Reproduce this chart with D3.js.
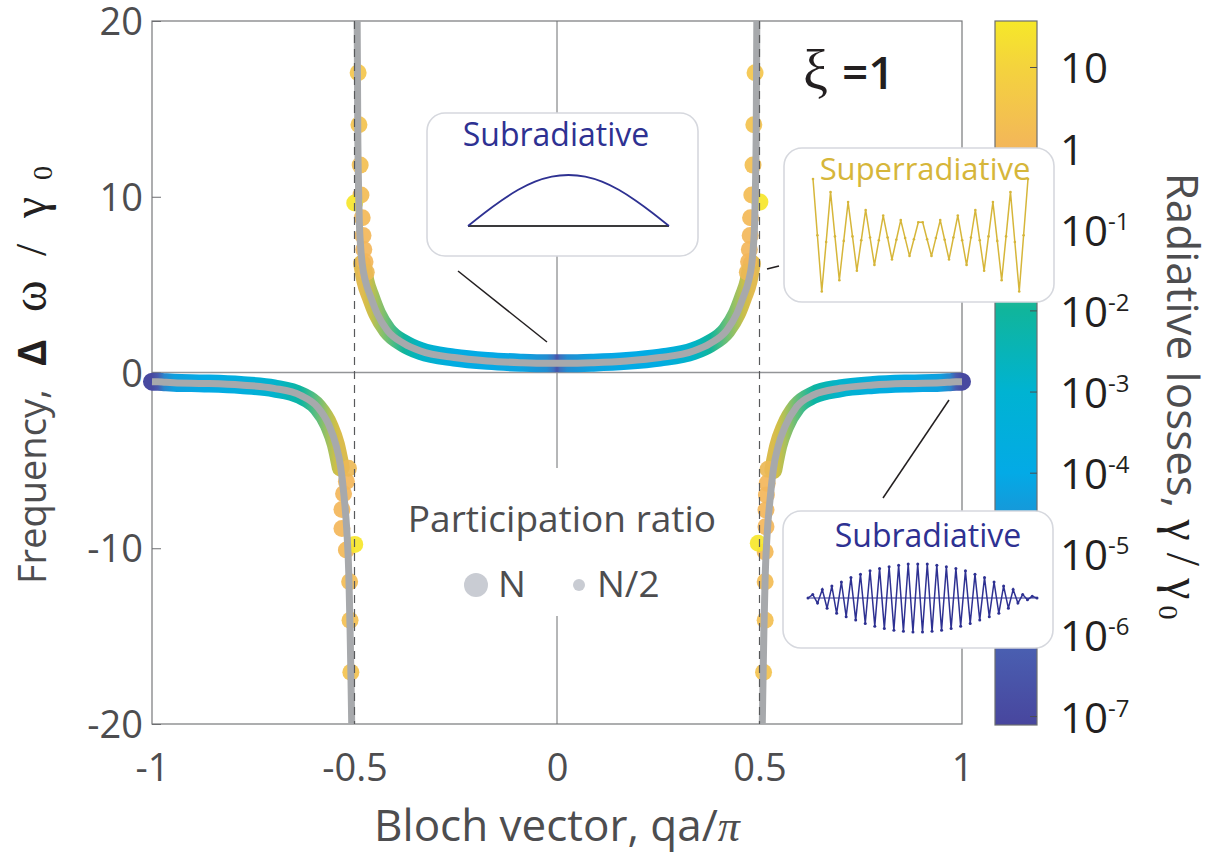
<!DOCTYPE html>
<html>
<head>
<meta charset="utf-8">
<script src="https://cdn.jsdelivr.net/npm/d3@7"></script>
<style>
  body { margin: 0; background: #fff; }
  svg { display: block; }
  text { font-family: "Open Sans", Lato, sans-serif; }
</style>
</head>
<body>
<div id="chart"></div>
<script>
// ---- data ----
// upper branch, |q| < 0.5 : Bloch vector, frequency, log10 radiative loss
const upperQ = [-0.4935, -0.492, -0.490, -0.488, -0.485, -0.481, -0.473, -0.460, -0.444, -0.419, -0.378, -0.337, -0.254, -0.172, -0.090, -0.025, -0.008, 0,
                0.008, 0.025, 0.090, 0.172, 0.254, 0.337, 0.378, 0.419, 0.444, 0.460, 0.473, 0.481, 0.485, 0.488, 0.490, 0.492, 0.4935];
const upperW = [20.5, 14.0, 10.5, 8.5, 7.2, 6.2, 5.2, 4.3, 3.35, 2.4, 1.65, 1.22, 0.85, 0.66, 0.56, 0.52, 0.52, 0.52,
                0.52, 0.52, 0.56, 0.66, 0.85, 1.22, 1.65, 2.4, 3.35, 4.3, 5.2, 6.2, 7.2, 8.5, 10.5, 14.0, 20.5];
const upperG = [0.3, 0.2, 0.1, 0, -0.1, -0.25, -0.4, -0.55, -0.8, -1.2, -2.0, -2.8, -3.8, -4.0, -4.2, -4.8, -5.6, -6.6,
                -5.6, -4.8, -4.2, -4.0, -3.8, -2.8, -2.0, -1.2, -0.8, -0.55, -0.4, -0.25, -0.1, 0, 0.1, 0.2, 0.3];

// lower branch, q < -0.5
const lowLQ = [-1.0, -0.985, -0.97, -0.946, -0.870, -0.781, -0.699, -0.633, -0.592, -0.563, -0.546, -0.534, -0.526, -0.519, -0.514, -0.511, -0.509, -0.5065];
const lowLW = [-0.52, -0.53, -0.55, -0.58, -0.62, -0.71, -0.9, -1.3, -1.95, -3.0, -4.1, -5.4, -7.0, -9.0, -11.5, -14.5, -17.0, -20.5];
const lowLG = [-7.0, -6.3, -5.0, -4.3, -4.0, -3.6, -2.9, -2.1, -1.3, -0.75, -0.5, -0.35, -0.2, -0.1, 0, 0.1, 0.2, 0.3];

// lower branch, q > 0.5
const lowRQ = [0.5065, 0.509, 0.511, 0.514, 0.519, 0.526, 0.534, 0.546, 0.563, 0.592, 0.633, 0.699, 0.781, 0.870, 0.946, 0.97, 0.985, 1.0];
const lowRW = [-20.5, -17.0, -14.5, -11.6, -9.15, -7.25, -5.55, -4.2, -3.08, -1.94, -1.28, -0.9, -0.71, -0.62, -0.58, -0.55, -0.53, -0.52];
const lowRG = [0.3, 0.2, 0.1, 0, -0.1, -0.2, -0.35, -0.5, -0.75, -1.3, -2.1, -2.9, -3.6, -4.0, -4.3, -5.0, -6.3, -7.0];

// separate modes near the divergence (large markers)
const dotQ = [0.489, 0.486, 0.484, 0.481, 0.478, 0.477, 0.475, 0.473, 0.470, 0.501,
              -0.491, -0.489, -0.486, -0.484, -0.481, -0.479, -0.477, -0.474, -0.471, -0.4995,
              -0.509, -0.511, -0.512, -0.520, -0.531, -0.531, -0.527, -0.520, -0.515, -0.4994,
              0.510, 0.514, 0.514, 0.514, 0.516, 0.516, 0.517, 0.519, 0.521, 0.497];
const dotW = [17.06, 14.1, 11.8, 10.1, 8.8, 7.8, 7.0, 6.3, 5.7, 9.7,
              17.06, 14.1, 11.8, 10.1, 8.8, 7.8, 7.0, 6.3, 5.7, 9.65,
              -17.06, -14.1, -11.9, -10.1, -8.87, -7.8, -6.9, -6.2, -5.45, -9.78,
              -17.06, -14.1, -11.9, -10.2, -8.77, -7.82, -6.97, -6.3, -5.5, -9.72];
const dotG = [0.5, 0.4, 0.3, 0.2, 0.1, 0.05, 0, 0, -0.1, 1.5,
              0.5, 0.4, 0.3, 0.2, 0.1, 0.05, 0, 0, -0.1, 1.5,
              0.4, 0.3, 0.2, 0.1, 0, 0, 0, 0, -0.1, 1.5,
              0.4, 0.3, 0.2, 0.1, 0, 0, 0, 0, -0.1, 1.5];

// colour map (log10 gamma -> colour) and colorbar ticks
const cmapLog = [-7.11, -6, -5, -4, -3, -2, -1, -0.5, 0, 1, 1.567];
const cmapCol = ["#48469e", "#4a63b4", "#2a86cc", "#03aae6", "#00b3d2", "#10b59c", "#86c26d", "#cfbf47", "#f3b65a", "#f4d33d", "#f6e829"];
const cbTicks = [-7, -6, -5, -4, -3, -2, -1, 0, 1];

// inset mode profiles
const archVals = [0, 0.26, 0.5, 0.71, 0.87, 0.97, 1, 0.97, 0.87, 0.71, 0.5, 0.26, 0];
const superVals = [1, 0, -1, -0.12, 0.77, -0.02, -0.8, -0.1, 0.59, -0.02, -0.63, -0.09, 0.45, -0.04, -0.53, -0.09, 0.35, -0.04, -0.43, -0.08, 0.27, -0.05, -0.37, -0.07, 0.23,
                   0.23, -0.07, -0.37, -0.05, 0.27, -0.08, -0.43, -0.04, 0.35, -0.09, -0.53, -0.04, 0.45, -0.09, -0.63, -0.02, 0.59, -0.1, -0.8, -0.02, 0.77, -0.12, -1, 0, 1];
const subVals = [0, 0.1, -0.15, 0.25, -0.3, 0.35, -0.45, 0.47, -0.55, 0.6, -0.65, 0.7, -0.75, 0.8, -0.83, 0.87, -0.9, 0.92, -0.95, 0.96, -0.98, 1, -1, 1, -1,
                 1, -0.98, 0.96, -0.95, 0.92, -0.9, 0.87, -0.83, 0.8, -0.75, 0.7, -0.65, 0.6, -0.55, 0.47, -0.45, 0.35, -0.3, 0.25, -0.15, 0.1, -0.05, 0.05, 0];

// ---- drawing ----
const W = 1218, H = 852;
const plot = { left: 152, right: 962, top: 21, bottom: 724 };

const svg = d3.select("#chart").append("svg")
    .attr("width", W)
    .attr("height", H);
const defs = svg.append("defs");

defs.append("clipPath").attr("id", "plotClip")
    .append("rect")
    .attr("x", 0).attr("y", plot.top)
    .attr("width", W).attr("height", plot.bottom - plot.top);

const x = d3.scaleLinear().domain([-1, 1]).range([plot.left, plot.right]);
const y = d3.scaleLinear().domain([-20, 20]).range([plot.bottom, plot.top]);
const color = d3.scaleLinear().domain(cmapLog).range(cmapCol).clamp(true);

// frame and reference lines
svg.append("rect")
    .attr("x", plot.left).attr("y", plot.top)
    .attr("width", plot.right - plot.left).attr("height", plot.bottom - plot.top)
    .attr("fill", "none").attr("stroke", "#77787b").attr("stroke-width", 1.2);

svg.append("line")
    .attr("x1", x(0)).attr("x2", x(0)).attr("y1", plot.top).attr("y2", plot.bottom)
    .attr("stroke", "#6d6e71").attr("stroke-width", 1);
svg.append("line")
    .attr("x1", plot.left).attr("x2", plot.right).attr("y1", y(0)).attr("y2", y(0))
    .attr("stroke", "#939598").attr("stroke-width", 1.6);

// axes
const yAxis = svg.append("g")
    .attr("transform", `translate(${plot.left},0)`)
    .call(d3.axisLeft(y).tickValues([-20, -10, 0, 10, 20]).tickSize(-9).tickPadding(9).tickFormat(d => String(d)));
yAxis.select(".domain").remove();
yAxis.selectAll("line").attr("stroke", "#6d6e71");
yAxis.selectAll("text").attr("font-size", 38).attr("fill", "#4d4d4f").attr("dy", "0.36em")
    .style("font-family", "'Open Sans', sans-serif");

const xAxis = svg.append("g")
    .attr("transform", `translate(0,${plot.bottom})`)
    .call(d3.axisBottom(x).tickValues([-1, -0.5, 0, 0.5, 1]).tickSize(0).tickPadding(30).tickFormat(d => String(d)));
xAxis.select(".domain").remove();
xAxis.selectAll("text").attr("font-size", 38).attr("fill", "#4d4d4f")
    .style("font-family", "'Open Sans', sans-serif");

// dispersion branches
const branches = [
    { id: "up", q: upperQ, w: upperW, g: upperG, bandMax: 6.3 },
    { id: "lowL", q: lowLQ, w: lowLW, g: lowLG, bandMax: 5.6 },
    { id: "lowR", q: lowRQ, w: lowRW, g: lowRG, bandMax: 5.6 }
];
branches.forEach(b => {
    b.pts = b.q.map((q, i) => ({ q, w: b.w[i], g: b.g[i] }));
    b.band = b.pts.filter(d => Math.abs(d.w) <= b.bandMax);
});

const line = d3.line().x(d => x(d.q)).y(d => y(d.w)).curve(d3.curveMonotoneX);

const curves = svg.append("g").attr("clip-path", "url(#plotClip)");

// coloured band (radiative losses) with a gradient built from the data
branches.forEach(b => {
    const x1 = x(b.band[0].q), x2 = x(b.band[b.band.length - 1].q);
    const grad = defs.append("linearGradient")
        .attr("id", "grad-" + b.id)
        .attr("gradientUnits", "userSpaceOnUse")
        .attr("x1", x1).attr("x2", x2).attr("y1", 0).attr("y2", 0);
    b.band.forEach(d => {
        grad.append("stop")
            .attr("offset", (x(d.q) - x1) / (x2 - x1))
            .attr("stop-color", color(d.g));
    });
    curves.append("path")
        .attr("d", line(b.band))
        .attr("fill", "none")
        .attr("stroke", `url(#grad-${b.id})`)
        .attr("stroke-width", 18)
        .attr("stroke-linecap", "round");
});

// isolated modes close to q = +-0.5
const dots = dotQ.map((q, i) => ({ q, w: dotW[i], g: dotG[i] }));
curves.selectAll(".dot")
    .data(dots)
    .enter().append("circle")
    .attr("class", "dot")
    .attr("cx", d => x(d.q))
    .attr("cy", d => y(d.w))
    .attr("r", 8.5)
    .attr("fill", d => color(d.g))
    .attr("fill-opacity", 0.92);

// analytic curve on top
branches.forEach(b => {
    curves.append("path")
        .attr("d", line(b.pts))
        .attr("fill", "none")
        .attr("stroke", "#a7a9ac")
        .attr("stroke-width", 7);
});

// light-line asymptotes
[-0.5, 0.5].forEach(q => {
    svg.append("line")
        .attr("x1", x(q)).attr("x2", x(q)).attr("y1", plot.top).attr("y2", plot.bottom)
        .attr("stroke", "#58595b").attr("stroke-width", 1.2)
        .attr("stroke-dasharray", "8,6");
});

// axis titles
svg.append("text")
    .attr("x", x(0)).attr("y", 841)
    .attr("text-anchor", "middle")
    .attr("font-size", 44).attr("fill", "#4d4d4f")
    .html('Bloch vector, qa/<tspan font-family="Liberation Serif" font-style="italic">π</tspan>');

// y title: rotated frame, x runs upwards (x = -screenY)
const yt = svg.append("text")
    .attr("transform", "translate(46,0) rotate(-90)")
    .attr("fill", "#231f20");
yt.append("tspan").attr("x", -584).attr("font-size", 38).attr("fill", "#4d4d4f").text("Frequency,");
yt.append("tspan").attr("x", -366).attr("font-size", 40).attr("font-weight", 700).text("Δ");
yt.append("tspan").attr("x", -312).attr("font-size", 48).attr("font-family", "Liberation Serif").text("ω");
yt.append("tspan").attr("x", -256).attr("font-size", 44).attr("font-family", "Liberation Serif").text("/");
yt.append("tspan").attr("x", -218).attr("font-size", 48).attr("font-family", "Liberation Serif").text("γ");
yt.append("tspan").attr("x", -180).attr("dy", 6).attr("font-size", 28).attr("font-family", "Liberation Serif").text("0");

// xi label
const xi = svg.append("text").attr("x", 803).attr("y", 89).attr("fill", "#231f20");
xi.append("tspan").attr("font-family", "Liberation Serif").attr("font-size", 56).text("ξ");
xi.append("tspan").attr("dx", 14).attr("font-size", 46).attr("font-weight", 600).text("=1");

// participation ratio legend
svg.append("rect").attr("x", 395).attr("y", 468).attr("width", 335).attr("height", 148).attr("fill", "#fff");
svg.append("text")
    .attr("x", 562).attr("y", 532)
    .attr("text-anchor", "middle")
    .attr("font-size", 37).attr("fill", "#4d4d4f")
    .text("Participation ratio");
const legendItems = [{ label: "N", r: 12, cx: 476 }, { label: "N/2", r: 6, cx: 579 }];
legendItems.forEach(d => {
    svg.append("circle").attr("cx", d.cx).attr("cy", 585).attr("r", d.r).attr("fill", "#c9ccd3");
    svg.append("text")
        .attr("x", d.cx + (d.r === 12 ? 22 : 18)).attr("y", 597)
        .attr("font-size", 37).attr("fill", "#4d4d4f")
        .text(d.label);
});

// colorbar
const cb = { x: 995, w: 42 };
const cbScale = d3.scaleLinear().domain([cmapLog[0], cmapLog[cmapLog.length - 1]]).range([plot.bottom + 1, plot.top]);
const cbGrad = defs.append("linearGradient")
    .attr("id", "cbGrad")
    .attr("gradientUnits", "userSpaceOnUse")
    .attr("x1", 0).attr("x2", 0)
    .attr("y1", cbScale.range()[0]).attr("y2", cbScale.range()[1]);
cmapLog.forEach((l, i) => {
    cbGrad.append("stop")
        .attr("offset", (l - cmapLog[0]) / (cmapLog[cmapLog.length - 1] - cmapLog[0]))
        .attr("stop-color", cmapCol[i]);
});
svg.append("rect")
    .attr("x", cb.x).attr("y", plot.top)
    .attr("width", cb.w).attr("height", cbScale.range()[0] - plot.top)
    .attr("fill", "url(#cbGrad)")
    .attr("stroke", "#6d6e71").attr("stroke-width", 1.2);

const cbAxis = svg.append("g")
    .attr("transform", `translate(${cb.x + cb.w},0)`)
    .call(d3.axisRight(cbScale).tickValues(cbTicks).tickSize(-7).tickPadding(23));
cbAxis.select(".domain").remove();
cbAxis.selectAll("line").attr("stroke", "#4d4d4f");
cbAxis.selectAll(".tick text")
    .attr("font-size", 42).attr("fill", "#231f20").attr("dy", "0.38em")
    .style("font-family", "'Open Sans', sans-serif")
    .text(null)
    .each(function(d) {
        const t = d3.select(this);
        if (d === 1) t.text("10");
        else if (d === 0) t.text("1");
        else {
            t.append("tspan").text("10");
            t.append("tspan").attr("font-size", 24).attr("dy", -16).text(String(d));
        }
    });

const ct = svg.append("text")
    .attr("transform", "translate(1167,396) rotate(90)")
    .attr("text-anchor", "middle")
    .attr("font-size", 44).attr("fill", "#4d4d4f");
ct.append("tspan").text("Radiative losses, ");
ct.append("tspan").attr("font-family", "Liberation Serif").attr("font-size", 48).attr("fill", "#231f20").text("γ / γ");
ct.append("tspan").attr("font-family", "Liberation Serif").attr("fill", "#231f20").attr("font-size", 28).attr("dx", 6).attr("dy", 8).text("0");

// insets
function insetBox(x0, y0, w, h) {
    svg.append("rect")
        .attr("x", x0).attr("y", y0).attr("width", w).attr("height", h)
        .attr("rx", 18).attr("ry", 18)
        .attr("fill", "#fff").attr("stroke", "#d6d8de").attr("stroke-width", 1.6);
}

// pointer lines
const pointers = [[458, 271, 547, 342], [883, 498, 949, 400], [767, 269, 779, 266]];
pointers.forEach(p => {
    svg.append("line")
        .attr("x1", p[0]).attr("y1", p[1]).attr("x2", p[2]).attr("y2", p[3])
        .attr("stroke", "#231f20").attr("stroke-width", 1.5);
});

// top subradiative inset
insetBox(427, 113, 271, 143);
svg.append("text").attr("x", 556).attr("y", 146).attr("text-anchor", "middle")
    .attr("font-size", 32).attr("fill", "#2e3192").text("Subradiative");
const ax = d3.scaleLinear().domain([0, archVals.length - 1]).range([468, 669]);
const ay = d3.scaleLinear().domain([0, 1]).range([226, 175]);
svg.append("line").attr("x1", 468).attr("x2", 669).attr("y1", ay(0)).attr("y2", ay(0))
    .attr("stroke", "#3a3a3c").attr("stroke-width", 1.8);
svg.append("path")
    .attr("d", d3.line().x((d, i) => ax(i)).y(d => ay(d)).curve(d3.curveNatural)(archVals))
    .attr("fill", "none").attr("stroke", "#2e3192").attr("stroke-width", 1.8);

// superradiative inset
insetBox(784, 148, 270, 154);
svg.append("text").attr("x", 925).attr("y", 180).attr("text-anchor", "middle")
    .attr("font-size", 31).attr("fill", "#d6b63a").text("Superradiative");
const sx = d3.scaleLinear().domain([0, superVals.length - 1]).range([813, 1028]);
const sy = d3.scaleLinear().domain([-1, 1]).range([291.5, 179]);
svg.append("path")
    .attr("d", d3.line().x((d, i) => sx(i)).y(d => sy(d))(superVals))
    .attr("fill", "none").attr("stroke", "#d6b63a").attr("stroke-width", 1.5);
svg.selectAll(".sdot").data(superVals).enter().append("circle")
    .attr("cx", (d, i) => sx(i)).attr("cy", d => sy(d)).attr("r", 1.3).attr("fill", "#d6b63a");

// bottom subradiative inset
insetBox(783, 511, 270, 137);
svg.append("text").attr("x", 928).attr("y", 547).attr("text-anchor", "middle")
    .attr("font-size", 32).attr("fill", "#2e3192").text("Subradiative");
const bx = d3.scaleLinear().domain([0, subVals.length - 1]).range([808, 1037]);
const by = d3.scaleLinear().domain([-1, 1]).range([632, 564]);
svg.append("line").attr("x1", 808).attr("x2", 1037).attr("y1", by(0)).attr("y2", by(0))
    .attr("stroke", "#2e3192").attr("stroke-width", 1.2);
svg.append("path")
    .attr("d", d3.line().x((d, i) => bx(i)).y(d => by(d))(subVals))
    .attr("fill", "none").attr("stroke", "#2e3192").attr("stroke-width", 1.5);
svg.selectAll(".bdot").data(subVals).enter().append("circle")
    .attr("cx", (d, i) => bx(i)).attr("cy", d => by(d)).attr("r", 1.5).attr("fill", "#2e3192");
</script>
</body>
</html>
